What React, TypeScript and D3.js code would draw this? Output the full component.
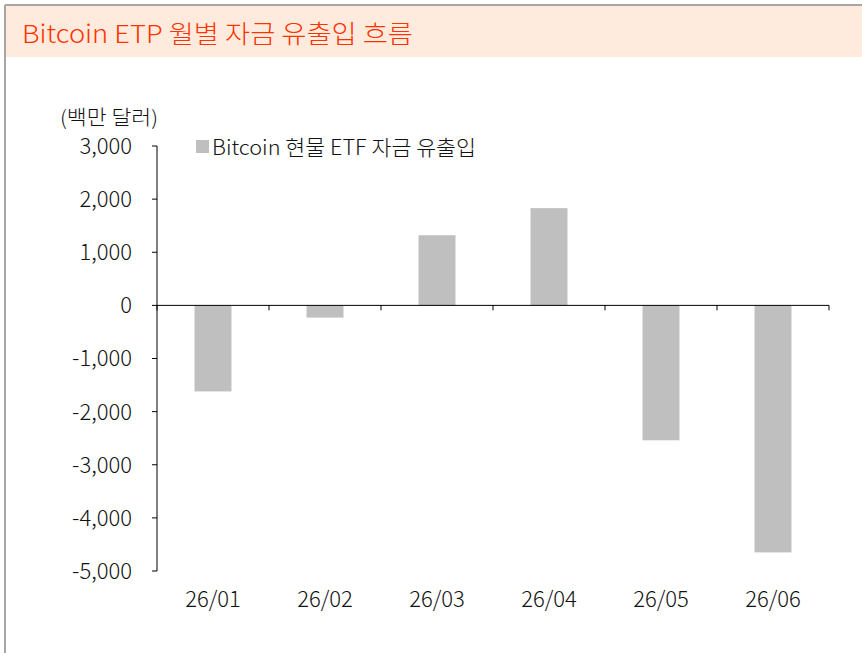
import React from "react";
import * as d3 from "d3";

const categories = ["26/01", "26/02", "26/03", "26/04", "26/05", "26/06"];
const flows = [-1620, -230, 1320, 1830, -2540, -4650];
const yTicks = [3000, 2000, 1000, 0, -1000, -2000, -3000, -4000, -5000];
const title = "Bitcoin ETP 월별 자금 유출입 흐름";
const unitLabel = "(백만 달러)";
const seriesName = "Bitcoin 현물 ETF 자금 유출입";

const W = 862;
const H = 653;
const FONT = "'Noto Sans CJK KR', 'Noto Sans', sans-serif";

const locale = d3.formatLocale({ decimal: ".", thousands: ",", grouping: [3], currency: ["", ""], minus: "-" });
const fmt = locale.format(",");

export default function App() {
  const x = d3.scaleBand<string>().domain(categories).range([157, 829]).paddingInner(0.67).paddingOuter(0.335);
  const y = d3.scaleLinear().domain([-5000, 3000]).range([571, 146]);
  const boundaries = d3.range(categories.length + 1).map((i) => 157 + i * ((829 - 157) / categories.length));

  return (
    <svg width={W} height={H} style={{ position: "absolute", left: 0, top: 0, background: "#fff" }} fontFamily={FONT} fontWeight={300}>
      <rect x={5} y={5} width={W - 5} height={52} fill="#FEEBDD" />
      <line x1={5} x2={W} y1={5} y2={5} stroke="#A6A6A6" strokeWidth={2} />
      <line x1={5} x2={5} y1={5} y2={H} stroke="#A6A6A6" strokeWidth={2} />
      <text x={22} y={43} fontSize={25} fill="#FF3300" textLength={391} lengthAdjust="spacingAndGlyphs">
        {title}
      </text>

      <text x={60} y={125} fontSize={20} fill="#111" textLength={98} lengthAdjust="spacingAndGlyphs">
        {unitLabel}
      </text>

      {flows.map((v, i) => (
        <rect
          key={categories[i]}
          x={x(categories[i])}
          width={x.bandwidth()}
          y={y(Math.max(0, v))}
          height={Math.abs(y(v) - y(0))}
          fill="#BFBFBF"
        />
      ))}

      <line x1={157} x2={157} y1={y(3000)} y2={y(-5000)} stroke="#000" strokeWidth={1} />
      {yTicks.map((t) => (
        <g key={t}>
          <line x1={152} x2={157} y1={y(t)} y2={y(t)} stroke="#000" />
          <text x={132} y={y(t)} dy="0.36em" fontSize={22} textAnchor="end" fill="#111">
            {fmt(t)}
          </text>
        </g>
      ))}

      <line x1={157} x2={829} y1={y(0)} y2={y(0)} stroke="#000" strokeWidth={1} />
      {boundaries.map((b, i) => (
        <line key={i} x1={b} x2={b} y1={y(0)} y2={y(0) + 5} stroke="#000" />
      ))}

      {categories.map((c) => (
        <text key={c} x={(x(c) ?? 0) + x.bandwidth() / 2} y={607} fontSize={22} textAnchor="middle" fill="#111">
          {c}
        </text>
      ))}

      <rect x={196} y={140} width={13} height={13} fill="#BFBFBF" />
      <text x={212} y={155} fontSize={21} fill="#111" textLength={264} lengthAdjust="spacingAndGlyphs">
        {seriesName}
      </text>
    </svg>
  );
}
